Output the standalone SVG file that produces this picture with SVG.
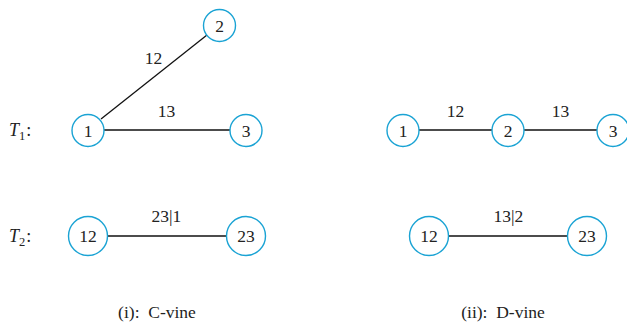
<svg xmlns="http://www.w3.org/2000/svg" width="627" height="328" viewBox="0 0 627 328">
  <style>
    .node circle { fill: #ffffff; stroke: #1aa3d4; stroke-width: 1.4; }
    .node text, .lbl { font-family: "Liberation Serif", "DejaVu Serif", serif; font-size: 17.5px; fill: #222; text-anchor: middle; }
    .cap { font-family: "Liberation Serif", "DejaVu Serif", serif; font-size: 17.5px; fill: #222; text-anchor: middle; white-space: pre; }
    .edges line { stroke: #111; stroke-width: 1.3; }
    .tree { font-family: "Liberation Serif", "DejaVu Serif", serif; font-size: 18px; fill: #222; }
  </style>
  <rect width="627" height="328" fill="#ffffff"/>

  <!-- connectors -->
  <g class="edges">
    <!-- C-vine -->
    <line x1="101" y1="119" x2="207" y2="35"/>
    <line x1="104" y1="130" x2="230" y2="130"/>
    <line x1="108" y1="236" x2="226" y2="236"/>
    <!-- D-vine -->
    <line x1="419" y1="130" x2="492" y2="130"/>
    <line x1="524" y1="130" x2="597" y2="130"/>
    <line x1="449" y1="236" x2="567" y2="236"/>
  </g>

  <!-- edge labels -->
  <g class="edge-labels">
    <text class="lbl" x="153.5" y="64">12</text>
    <text class="lbl" x="166.5" y="117">13</text>
    <text class="lbl" x="166.5" y="222">23|1</text>
    <text class="lbl" x="455.5" y="117">12</text>
    <text class="lbl" x="560.5" y="117">13</text>
    <text class="lbl" x="508.5" y="222">13|2</text>
  </g>

  <!-- tree row labels -->
  <text class="tree" x="9" y="136"><tspan font-style="italic">T</tspan><tspan font-size="12.5" dy="4">1</tspan><tspan dy="-4" dx="1">:</tspan></text>
  <text class="tree" x="9" y="242"><tspan font-style="italic">T</tspan><tspan font-size="12.5" dy="4">2</tspan><tspan dy="-4" dx="1">:</tspan></text>

  <!-- C-vine nodes -->
  <g id="c-node-1" class="node"><circle cx="88" cy="130.5" r="16"/><text x="88" y="136.5">1</text></g>
  <g id="c-node-2" class="node"><circle cx="219.5" cy="25.5" r="16"/><text x="219.5" y="31.5">2</text></g>
  <g id="c-node-3" class="node"><circle cx="246" cy="130.5" r="16"/><text x="246" y="136.5">3</text></g>
  <g id="c-node-12" class="node"><circle cx="88" cy="236" r="19.5"/><text x="88" y="242">12</text></g>
  <g id="c-node-23" class="node"><circle cx="246" cy="236" r="19.5"/><text x="246" y="242">23</text></g>

  <!-- D-vine nodes -->
  <g id="d-node-1" class="node"><circle cx="403" cy="130.5" r="16"/><text x="403" y="136.5">1</text></g>
  <g id="d-node-2" class="node"><circle cx="508" cy="130.5" r="16"/><text x="508" y="136.5">2</text></g>
  <g id="d-node-3" class="node"><circle cx="613" cy="130.5" r="16"/><text x="613" y="136.5">3</text></g>
  <g id="d-node-12" class="node"><circle cx="429" cy="236" r="19.5"/><text x="429" y="242">12</text></g>
  <g id="d-node-23" class="node"><circle cx="587" cy="236" r="19.5"/><text x="587" y="242">23</text></g>

  <!-- captions -->
  <text class="cap" x="157" y="318">(i):  C-vine</text>
  <text class="cap" x="503" y="318">(ii):  D-vine</text>
</svg>
